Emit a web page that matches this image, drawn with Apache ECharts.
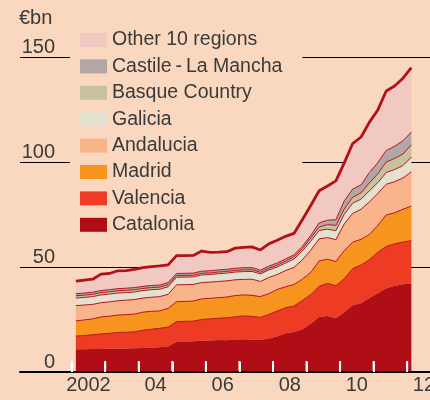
<!DOCTYPE html>
<html>
<head>
<meta charset="utf-8">
<script src="https://cdn.jsdelivr.net/npm/echarts@6.0.0/dist/echarts.min.js"></script>
<style>
  html, body { margin: 0; padding: 0; background: #fad8bf; }
  #chart { width: 430px; height: 400px; }
</style>
</head>
<body>
<div id="chart"></div>
<script>
// Regional government debt, € billion, quarterly from 2002 Q1 to 2012 Q1
const startYear = 2002;
const quarterCount = 41;
// each quarter is plotted at its mid-point
const quarterTimes = Array.from({ length: quarterCount }, (_, i) => startYear + 0.125 + i * 0.25);

const catalonia = [10.8,10.8,10.9,11.0,11.1,11.1,11.2,11.3,11.4,11.6,11.8,12.2,14.4,14.5,14.7,14.9,15.0,15.2,15.1,15.5,15.6,15.4,15.2,16.0,16.9,18.5,19.1,20.3,23.0,26.2,26.7,25.6,28.5,31.8,32.7,35.2,37.5,39.9,41.0,41.8,42.2];
const valencia = [6.3,6.6,6.8,7.1,7.3,7.7,7.7,7.8,8.5,8.8,9.0,9.2,9.6,9.6,9.5,10.1,10.3,10.4,10.7,10.8,11.1,11.1,10.8,11.4,12.1,12.1,12.3,13.7,13.8,14.6,15.5,15.5,15.9,17.4,18.2,18.3,19.5,19.9,20.0,20.1,20.3];
const madrid = [7.2,7.4,7.6,8.1,8.2,8.3,8.4,8.5,8.6,8.5,8.3,8.9,9.5,9.5,9.6,9.8,9.8,9.8,9.9,10.1,10.0,10.0,9.9,9.9,10.3,10.0,10.2,10.2,10.6,12.1,11.5,11.5,13.4,12.6,12.3,12.0,12.8,15.0,14.8,15.6,16.5];
const andalucia = [7.3,7.1,6.9,6.8,6.8,6.8,6.9,6.9,6.7,6.7,6.8,6.7,8.0,8.0,7.9,7.8,7.7,7.7,7.7,7.5,7.4,7.7,7.2,7.7,7.1,7.7,8.2,9.2,10.6,10.5,10.3,10.4,12.7,13.7,14.3,15.5,15.2,14.6,14.8,14.9,16.3];
const galicia = [3.6,3.6,3.7,3.7,3.7,3.7,3.6,3.6,3.6,3.6,3.5,3.6,3.6,3.6,3.6,3.6,3.6,3.7,3.7,3.7,3.7,3.7,3.6,3.6,3.6,3.6,4.0,4.2,4.3,4.0,4.0,4.3,4.6,4.9,4.8,5.3,5.2,5.6,5.8,5.9,7.0];
const basqueCountry = [1.1,1.1,1.1,1.1,1.1,1.1,1.1,1.1,1.0,1.0,1.0,1.0,0.8,0.8,0.8,0.8,0.8,0.8,0.8,0.8,0.8,0.8,0.8,0.8,0.9,0.9,1.0,1.1,1.5,1.6,2.2,2.5,2.5,2.8,3.0,3.8,4.2,5.0,5.3,5.5,5.9];
const castileLaMancha = [1.0,1.0,1.0,1.0,1.0,1.0,1.0,1.0,1.0,1.0,1.0,1.0,1.0,1.0,1.0,1.0,1.0,1.0,1.0,1.0,1.0,1.0,1.0,1.0,1.0,1.0,1.0,1.1,1.2,2.0,2.1,2.7,3.9,3.9,3.8,4.9,5.3,5.5,5.8,6.3,6.1];
const otherRegions = [6.0,6.2,6.2,7.8,7.7,8.5,8.4,8.7,8.9,9.0,9.1,8.4,8.5,8.4,8.4,9.6,8.8,8.5,8.4,9.6,9.7,9.9,9.6,10.6,10.8,10.8,10.2,12.7,14.3,15.3,16.3,18.5,18.1,21.7,22.8,24.0,25.1,28.3,28.7,29.8,30.6];

// stacking order, bottom first
const regionNames = ['Catalonia', 'Valencia', 'Madrid', 'Andalucia', 'Galicia', 'Basque Country', 'Castile\u2009-\u2009La Mancha', 'Other 10 regions'];
const regionValues = [catalonia, valencia, madrid, andalucia, galicia, basqueCountry, castileLaMancha, otherRegions];
const regionFills = ['#af0e17', '#ee3b24', '#f7941e', '#f9b48b', '#e4e1d1', '#c6c2a0', '#b3a6a7', '#f2c9c1'];

const yearTicks = [2002, 2003, 2004, 2005, 2006, 2007, 2008, 2009, 2010, 2011, 2012];
const yearLabelPositions = [2002.5, 2004.5, 2006.5, 2008.5, 2010.5, 2012.5];
const yearLabels = ['2002', '04', '06', '08', '10', '12'];
const valueMax = 150;
const valueStep = 50;

const textColor = '#3a3a3a';
const fontFamily = '"Liberation Sans", Arial, sans-serif';
const edgeColor = '#b3161f';
const tickColor = '#ffffff';

// rows are [debt, time] so that the debt dimension is the one that gets stacked
const series = regionNames.map((name, idx) => {
  const isTop = idx === regionNames.length - 1;
  const isBottom = idx === 0;
  return {
    name: name,
    type: 'line',
    stack: 'debt',
    data: quarterTimes.map((t, i) => [regionValues[idx][i], t]),
    encode: { x: 1, y: 0 },
    showSymbol: false,
    symbol: 'none',
    silent: true,
    z: 20 - idx,
    itemStyle: { color: regionFills[idx] },
    areaStyle: { color: regionFills[idx], opacity: 1 },
    lineStyle: {
      color: isBottom ? regionFills[idx] : (isTop ? '#b0111a' : edgeColor),
      width: isBottom ? 0 : (isTop ? 2.8 : 1)
    }
  };
});

// short white year ticks standing on the baseline, drawn over the areas
series.push({
  name: 'year ticks',
  type: 'scatter',
  silent: true,
  clip: false,
  z: 50,
  symbol: 'rect',
  symbolSize: [2, 10],
  symbolOffset: [0, -6],
  itemStyle: { color: tickColor, opacity: 1 },
  data: yearTicks.map((y) => [y, 0])
});

const chart = echarts.init(document.getElementById('chart'), null, { renderer: 'canvas' });
chart.setOption({
  animation: false,
  backgroundColor: '#fad8bf',
  textStyle: { fontFamily: fontFamily },
  title: {
    text: '€bn',
    left: 19,
    top: 8,
    padding: 0,
    textStyle: { fontSize: 20, fontWeight: 'normal', color: textColor, fontFamily: fontFamily }
  },
  legend: {
    orient: 'vertical',
    left: 70,
    top: 20,
    padding: [10, 20, 10, 10],
    backgroundColor: '#fad8bf',
    itemWidth: 27,
    itemHeight: 14,
    itemGap: 6.4,
    icon: 'rect',
    selectedMode: false,
    itemStyle: { borderWidth: 0 },
    textStyle: { fontSize: 19.5, lineHeight: 20, color: textColor, fontFamily: fontFamily },
    data: regionNames.slice().reverse()
  },
  grid: { left: 20, right: 0, top: 57, bottom: 28, containLabel: false, outerBoundsMode: 'none' },
  xAxis: {
    type: 'value',
    min: 2000.46,
    max: 2012.68,
    z: 60,
    axisLine: { show: true, lineStyle: { color: '#000', width: 2 } },
    splitLine: { show: false },
    axisTick: {
      show: true,
      inside: true,
      length: 10,
      customValues: yearTicks,
      lineStyle: { color: tickColor, width: 2 }
    },
    axisLabel: {
      show: true,
      customValues: yearLabelPositions,
      margin: 3,
      fontSize: 20,
      color: textColor,
      fontFamily: fontFamily,
      formatter: (v) => yearLabels[yearLabelPositions.indexOf(v)]
    }
  },
  yAxis: {
    type: 'value',
    min: 0,
    max: valueMax,
    interval: valueStep,
    z: 0,
    axisLine: { show: false },
    axisTick: { show: false },
    splitLine: { show: true, lineStyle: { color: '#000', width: 1 } },
    axisLabel: {
      inside: true,
      margin: 35,
      align: 'right',
      verticalAlign: 'bottom',
      fontSize: 20,
      color: textColor,
      fontFamily: fontFamily
    }
  },
  series: series
});
</script>
</body>
</html>
